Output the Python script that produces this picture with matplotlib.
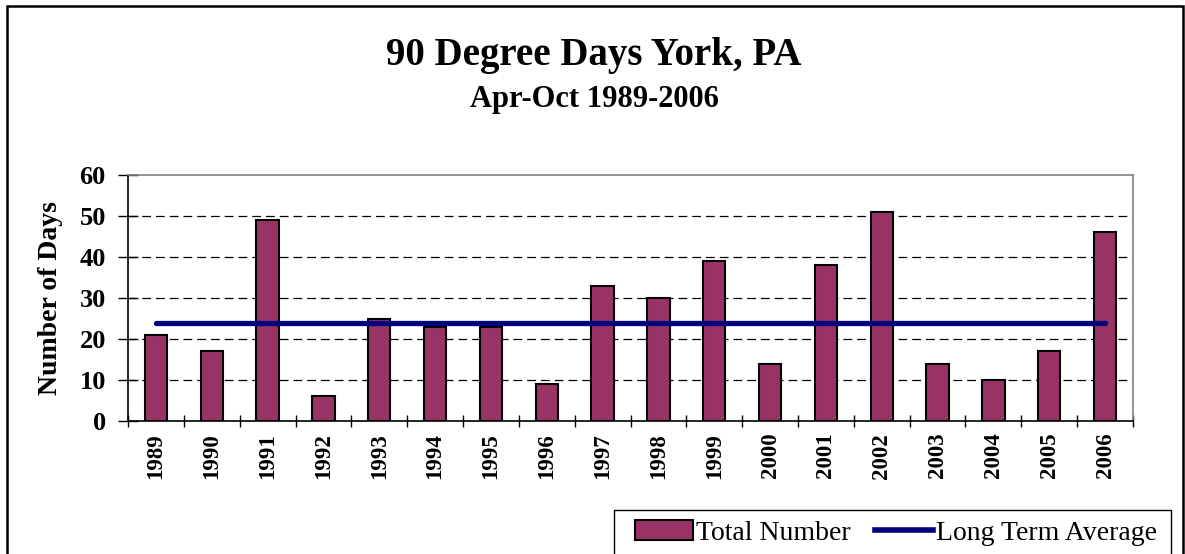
import matplotlib
matplotlib.use("Agg")
import matplotlib.pyplot as plt
from matplotlib.patches import Rectangle, Patch
from matplotlib.lines import Line2D
import numpy as np

plt.rcParams['font.family'] = ['Liberation Serif', 'DejaVu Serif']

years = ['1989', '1990', '1991', '1992', '1993', '1994', '1995', '1996', '1997',
         '1998', '1999', '2000', '2001', '2002', '2003', '2004', '2005', '2006']
total_number = [21, 17, 49, 6, 25, 23, 23, 9, 33, 30, 39, 14, 38, 51, 14, 10, 17, 46]
long_term_average = [24] * len(years)
y_ticks = [0, 10, 20, 30, 40, 50, 60]

W, H = 1185, 554
fig = plt.figure(figsize=(W / 100, H / 100), dpi=100)
ax = fig.add_axes([128 / W, 1 - 421 / H, (1133 - 128) / W, (421 - 175) / H])

x = np.arange(len(years))
ax.bar(x, total_number, width=0.4, color='#993366', edgecolor='black', linewidth=1.5, zorder=3)
ax.plot(x, long_term_average, color='#000080', linewidth=3.8, solid_capstyle='round', zorder=4)

ax.set_xlim(-0.5, len(years) - 0.5)
ax.set_ylim(0, 60)
ax.set_yticks(y_ticks)
ax.set_yticklabels([str(v) for v in y_ticks], fontsize=19, fontweight='bold')
ax.set_xticks(x)
ax.set_xticklabels(years, rotation=90, fontsize=16.5, fontweight='bold')
ax.tick_params(axis='x', length=0, pad=8.5)
ax.set_xticks(np.arange(len(years) + 1) - 0.5, minor=True)
ax.tick_params(axis='x', which='minor', direction='inout', length=9, width=1, color='black')
ax.tick_params(axis='y', direction='inout', length=14, width=1, pad=9)

for v in y_ticks[1:-1]:
    ax.axhline(v, color='black', linestyle=(0, (7, 4)), linewidth=0.9, zorder=1)

for s in ['top', 'right']:
    ax.spines[s].set_color('#808080')
    ax.spines[s].set_linewidth(1.2)
for s in ['left', 'bottom']:
    ax.spines[s].set_color('black')
    ax.spines[s].set_linewidth(1.2)

ax.set_ylabel('Number of Days', fontsize=20, fontweight='bold', labelpad=12)

fig.text(594 / W, 1 - 55 / H, '90 Degree Days York, PA', ha='center', va='center',
         fontsize=28, fontweight='bold')
fig.text(594 / W, 1 - 99 / H, 'Apr-Oct 1989-2006', ha='center', va='center',
         fontsize=22, fontweight='bold')

# outer chart border
fig.patches.append(Rectangle((6.5 / W, -0.05), (1183 - 6.5) / W, 1.05 - 5.5 / H,
                             transform=fig.transFigure, fill=False, edgecolor='black',
                             linewidth=1.8))
# legend box
fig.patches.append(Rectangle((614 / W, -0.05), (1171 - 614) / W, 0.05 + (554 - 509.5) / H,
                             transform=fig.transFigure, fill=False, edgecolor='black',
                             linewidth=1.0))
handles = [Patch(facecolor='#993366', edgecolor='black', linewidth=1.5),
           Line2D([0], [0], color='#000080', linewidth=4)]
fig.legend(handles, ['Total Number', 'Long Term Average'], loc='center',
           bbox_to_anchor=(896 / W, 1 - 533 / H), ncol=2, frameon=False,
           fontsize=20, handlelength=2.1, handletextpad=0.12, columnspacing=0.85,
           borderaxespad=0)

fig.savefig('out.png', dpi=100)
